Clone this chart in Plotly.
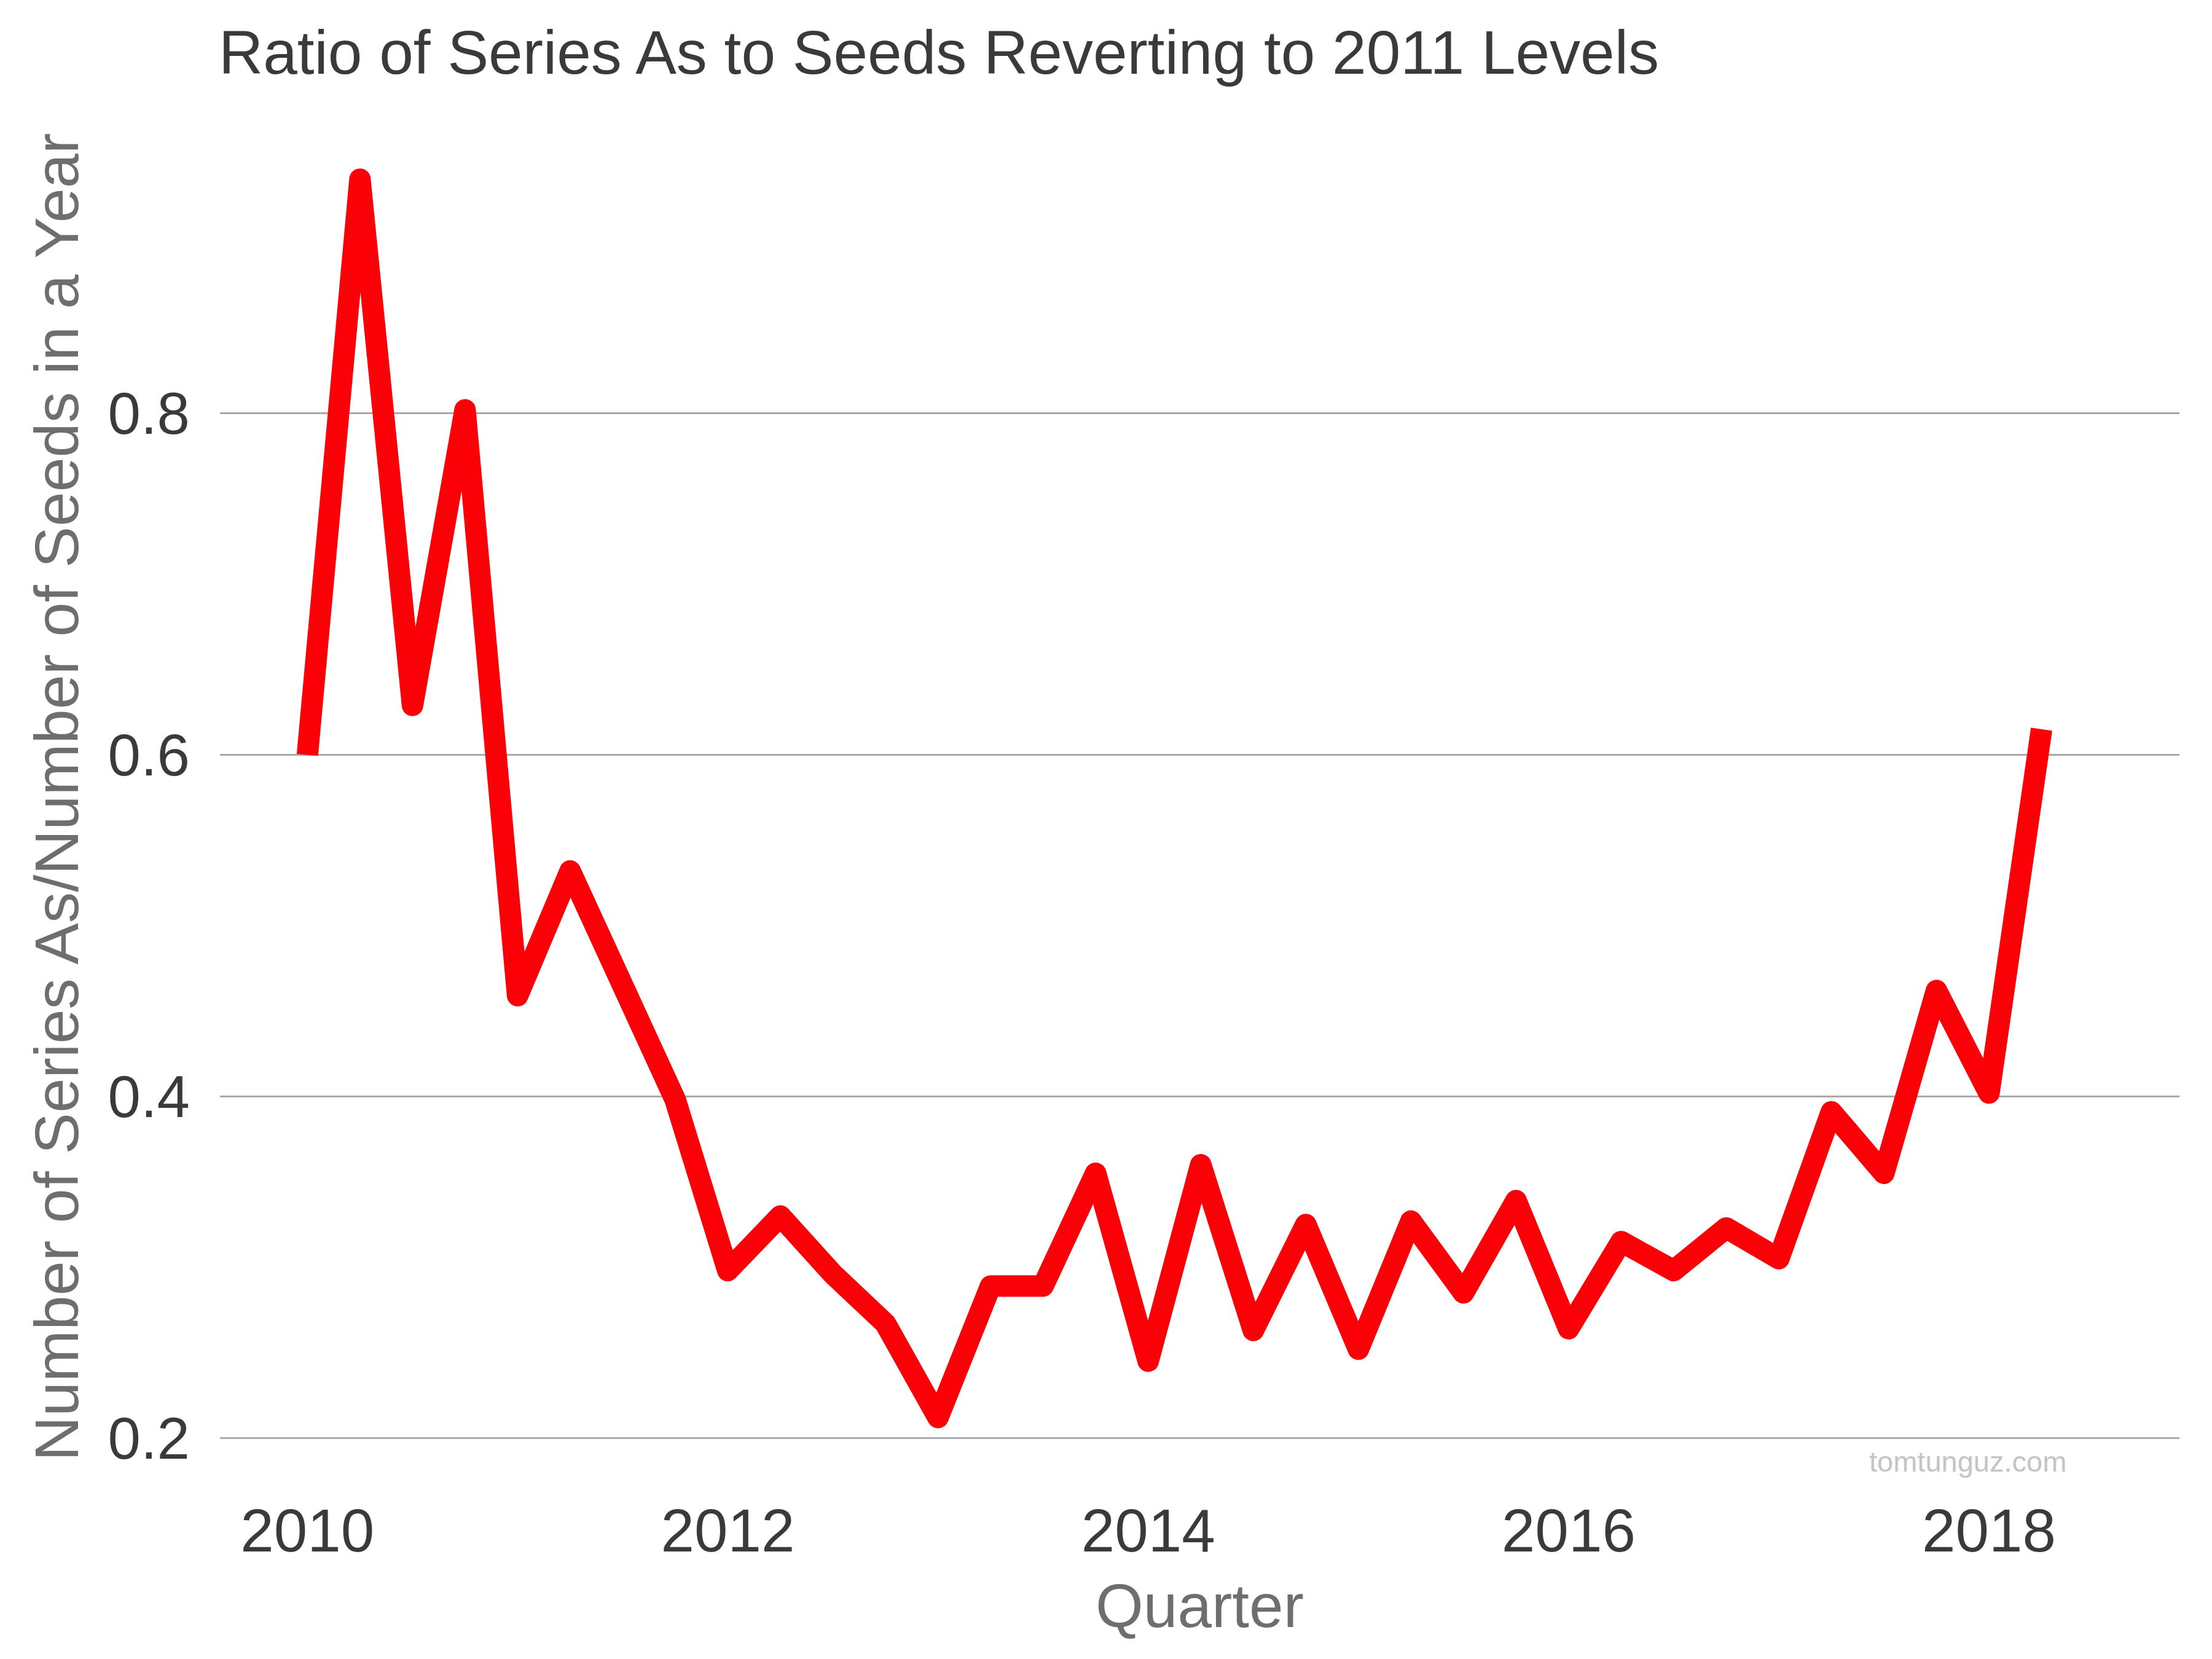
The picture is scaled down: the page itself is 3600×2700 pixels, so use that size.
import plotly.graph_objects as go

# Quarterly data (year fractions)
quarters = [2010 + 0.25 * i for i in range(34)]
ratio = [0.600, 0.937, 0.629, 0.802, 0.459, 0.532, 0.465, 0.398,
         0.298, 0.330, 0.296, 0.267, 0.212, 0.289, 0.289, 0.355,
         0.245, 0.360, 0.263, 0.325, 0.252, 0.327, 0.285, 0.339,
         0.264, 0.315, 0.298, 0.323, 0.305, 0.391, 0.355, 0.462,
         0.402, 0.615]
x_tick_vals = [2010, 2012, 2014, 2016, 2018]
x_tick_text = ["2010", "2012", "2014", "2016", "2018"]
y_tick_vals = [0.2, 0.4, 0.6, 0.8]
y_tick_text = ["0.2", "0.4", "0.6", "0.8"]

FONT = "Liberation Sans, Arial, Helvetica, sans-serif"

fig = go.Figure()
fig.add_trace(go.Scatter(
    x=quarters, y=ratio, mode="lines",
    line=dict(color="#fc0008", width=35),
    hoverinfo="skip", showlegend=False,
))

fig.update_layout(
    width=3600, height=2700,
    margin=dict(l=358, r=53, t=182, b=286),
    paper_bgcolor="white", plot_bgcolor="white",
    font=dict(family=FONT, color="#3a3a3a"),
    title=dict(
        text="Ratio of Series As to Seeds Reverting to 2011 Levels",
        font=dict(family=FONT, size=100, color="#3a3a3a"),
        x=356 / 3600, xanchor="left", xref="container",
        y=1 - 85 / 2700, yanchor="middle", yref="container",
    ),
    xaxis=dict(
        range=[2009.584, 2018.906],
        tickvals=x_tick_vals, ticktext=x_tick_text,
        showgrid=False, zeroline=False, showline=False,
        ticks="", ticklabelstandoff=12,
        tickfont=dict(family=FONT, size=98, color="#3a3a3a"),
    ),
    yaxis=dict(
        range=[0.1735, 0.9765],
        tickvals=y_tick_vals, ticktext=y_tick_text,
        showgrid=True, gridcolor="#aaaaaa", gridwidth=3,
        zeroline=False, showline=False,
        ticks="", ticklabelstandoff=48,
        tickfont=dict(family=FONT, size=96, color="#3a3a3a"),
    ),
    annotations=[
        dict(text="Number of Series As/Number of Seeds in a Year",
             xref="paper", yref="paper", x=0, y=0.5,
             xanchor="center", yanchor="middle", xshift=-266,
             textangle=-90, showarrow=False,
             font=dict(family=FONT, size=101, color="#6e6e6e")),
        dict(text="Quarter",
             xref="paper", yref="paper", x=0.5, y=0,
             xanchor="center", yanchor="middle", yshift=-199,
             showarrow=False,
             font=dict(family=FONT, size=100, color="#6e6e6e")),
        dict(text="tomtunguz.com",
             xref="paper", yref="paper", x=0.892, y=0.0157,
             xanchor="center", yanchor="middle",
             showarrow=False,
             font=dict(family=FONT, size=47, color="#c4c4c4")),
    ],
)

post = ("document.body.style.margin='0';"
        "document.querySelectorAll('.scatterlayer .js-line').forEach("
        "function(p){p.style.strokeLinejoin='round';});")
fig.write_html("out.html", post_script=post,
               config={"displayModeBar": False})
